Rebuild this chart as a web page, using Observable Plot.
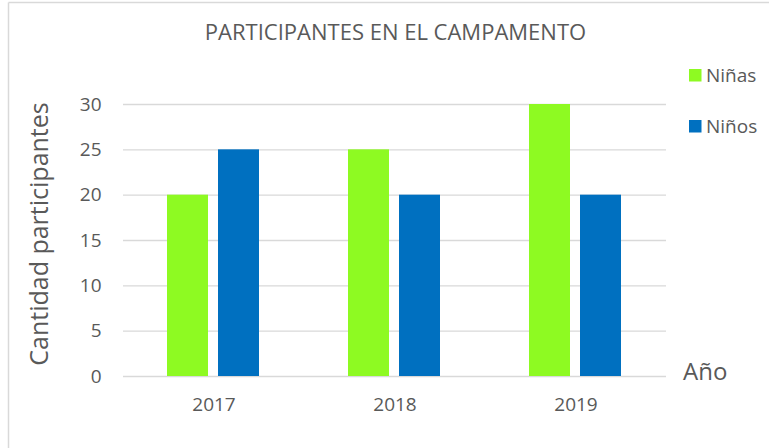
<!DOCTYPE html>
<html>
<head>
<meta charset="utf-8">
<script src="https://cdn.jsdelivr.net/npm/d3@7"></script>
<script src="https://cdn.jsdelivr.net/npm/@observablehq/plot@0.6"></script>
<style>
  html, body { margin: 0; padding: 0; background: #fff; }
  #chart { width: 769px; height: 448px; }
</style>
</head>
<body>
<div id="chart"></div>
<script>
const title = "PARTICIPANTES EN EL CAMPAMENTO";
const yLabel = "Cantidad participantes";
const xLabel = "Año";
const years = ["2017", "2018", "2019"];
const series = ["Niñas", "Niños"];
const ninas = [20, 25, 30];
const ninos = [25, 20, 20];
const yTicks = [0, 5, 10, 15, 20, 25, 30];
const seriesColors = ["#8efa22", "#0070c0"];

const rows = [];
years.forEach((yr, i) => {
  rows.push({year: yr, group: series[0], value: ninas[i]});
  rows.push({year: yr, group: series[1], value: ninos[i]});
});

const W = 769, H = 448;
const mL = 122, mR = 103, mT = 104, mB = 72;
const textColor = "#595959";

const chart = Plot.plot({
  width: W,
  height: H,
  marginLeft: mL,
  marginRight: mR,
  marginTop: mT,
  marginBottom: mB,
  style: {fontFamily: "'Open Sans', sans-serif", color: textColor, background: "#fff", overflow: "visible"},
  fx: {domain: years, padding: 0, axis: null},
  x: {domain: series, paddingInner: 0.196, paddingOuter: 0.87, axis: null},
  y: {domain: [0, 30]},
  color: {domain: series, range: seriesColors},
  marks: [
    Plot.ruleY(yTicks, {stroke: "#d9d9d9", strokeWidth: 1.3}),
    Plot.barY(rows, {fx: "year", x: "group", y: "value", fill: "group"}),
    Plot.axisY({ticks: yTicks, tickSize: 0, tickPadding: 22, fontSize: 19, label: null}),
    Plot.axisFx({anchor: "bottom", tickSize: 0, tickPadding: 21, fontSize: 19, label: null})
  ]
});

document.getElementById("chart").appendChild(chart);

const svg = d3.select(chart);
// outer border (top & left visible)
svg.append("line").attr("x1", 8.5).attr("x2", W).attr("y1", 2.5).attr("y2", 2.5)
  .attr("stroke", "#d9d9d9").attr("stroke-width", 1.5);
svg.append("line").attr("x1", 8.5).attr("x2", 8.5).attr("y1", 2.5).attr("y2", H)
  .attr("stroke", "#d9d9d9").attr("stroke-width", 1.5);

svg.append("text").text(title)
  .attr("x", 395.5).attr("y", 40).attr("text-anchor", "middle")
  .attr("font-size", 22).attr("fill", textColor);

svg.append("text").text(yLabel)
  .attr("transform", "translate(48,234) rotate(-90)")
  .attr("text-anchor", "middle")
  .attr("font-size", 25).attr("fill", textColor);

svg.append("text").text(xLabel)
  .attr("x", 683).attr("y", 380).attr("text-anchor", "start")
  .attr("font-size", 24).attr("fill", textColor);

const legendY = [82, 133];
series.forEach((s, i) => {
  svg.append("rect").attr("x", 689).attr("y", legendY[i] - 13)
    .attr("width", 12.5).attr("height", 12.5).attr("fill", seriesColors[i]);
  svg.append("text").text(s).attr("x", 706).attr("y", legendY[i]).attr("text-anchor", "start")
    .attr("font-size", 19).attr("fill", textColor);
});
</script>
</body>
</html>
